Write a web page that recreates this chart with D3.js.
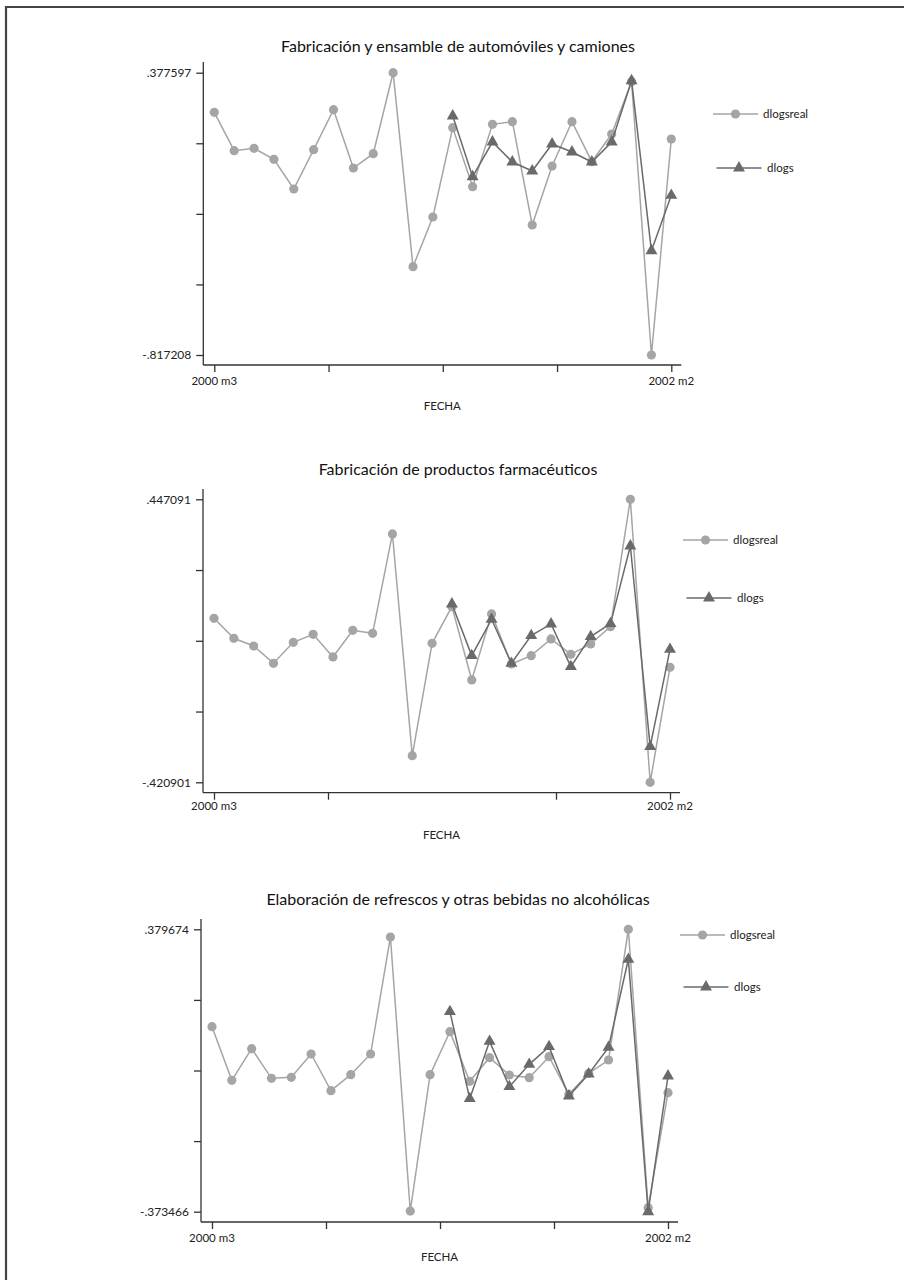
<!DOCTYPE html>
<html lang="es">
<head>
<meta charset="UTF-8">
<title>dlogsreal vs dlogs</title>
<script src="https://d3js.org/d3.v7.min.js"></script>
<style>
  body { margin: 0; background: #fff; }
  svg { display: block; font-family: Lato, "Open Sans", sans-serif; }
  .frame { stroke: #444; stroke-width: 2.2; }
  .axis path, .axis line { stroke: #333; stroke-width: 1.3; }
  .axis text { fill: #222; font-size: 12px; font-family: Lato, sans-serif; }
  .title { font-size: 16px; fill: #111; }
  .xlab { font-size: 11.5px; fill: #222; }
  .legend text { font-size: 11.5px; fill: #222; }
</style>
</head>
<body>
<svg id="chart" width="904" height="1280"></svg>
<script>
// monthly dates, 2000 m3 .. 2002 m2
const months = ["2000 m3","2000 m4","2000 m5","2000 m6","2000 m7","2000 m8","2000 m9","2000 m10",
  "2000 m11","2000 m12","2001 m1","2001 m2","2001 m3","2001 m4","2001 m5","2001 m6","2001 m7",
  "2001 m8","2001 m9","2001 m10","2001 m11","2001 m12","2002 m1","2002 m2"];
const seriesNames = ["dlogsreal", "dlogs"];

const titles = [
  "Fabricación y ensamble de automóviles y camiones",
  "Fabricación de productos farmacéuticos",
  "Elaboración de refrescos y otras bebidas no alcohólicas"
];
const yLimits = [[-.817208, .377597], [-.420901, .447091], [-.373466, .379674]];
const yTickLabels = [["-.817208", ".377597"], ["-.420901", ".447091"], ["-.373466", ".379674"]];

// panel 1
const autoReal = [.2097, .0475, .0574, .0108, -.1147, .0517, .2210, -.0258, .0348, .377597,
  -.4434, -.2332, .1448, -.1048, .1590, .1702, -.2670, -.0174, .1702, .0010, .1180, .3395, -.817208, .0969];
const autoFit = [null, null, null, null, null, null, null, null, null, null, null, null,
  .1942, -.0625, .0842, -.0004, -.0385, .0757, .0419, -.0004, .0842, .3437, -.3757, -.1415];
// panel 2
const farmaReal = [.0821, .0208, -.0028, -.0559, .0085, .0330, -.0365, .0453, .0361, .3408,
  -.3391, .0054, .1179, -.1070, .0954, -.0580, -.0324, .0187, -.0283, .0034, .0565, .447091, -.420901, -.0682];
const farmaFit = [null, null, null, null, null, null, null, null, null, null, null, null,
  .1261, -.0324, .0790, -.0559, .0289, .0647, -.0661, .0259, .0657, .3040, -.3115, -.0130];
// panel 3
const refReal = [.1200, -.0231, .0614, -.0178, -.0151, .0471, -.0507, -.0080, .0471, .3592,
  -.3717, -.0080, .1067, -.0258, .0373, -.0089, -.0160, .0400, -.0605, -.0044, .0311, .379674, -.3628, -.0560];
const refFit = [null, null, null, null, null, null, null, null, null, null, null, null,
  .1601, -.0720, .0809, -.0400, .0196, .0667, -.0649, -.0062, .0649, .2997, -.373466, -.0116];

const realSeries = [autoReal, farmaReal, refReal];
const fitSeries = [autoFit, farmaFit, refFit];

// layout of the three stacked graphs
const panels = [
  { top: 72.7, bottom: 355, axisY: 365, axisTop: 62, x0: 214.3, x1: 671.3, titleY: 52,
    labY: 385, fechaY: 410, legX: 713, legY: [114, 168], xTicks: [0, 5.75, 11.5, 17.25, 23] },
  { top: 499.3, bottom: 782.3, axisY: 792.7, axisTop: 489, x0: 214, x1: 670, titleY: 475,
    labY: 810, fechaY: 839, legX: 683, legY: [540, 598], xTicks: [0, 5.75, 17.25, 23] },
  { top: 929.3, bottom: 1211.7, axisY: 1222, axisTop: 919, x0: 212, x1: 668, titleY: 905,
    labY: 1242, fechaY: 1261, legX: 680, legY: [935, 987], xTicks: [0, 5.75, 11.5, 17.25, 23] }
];

const colReal = "#a5a5a5", colFit = "#6a6a6a";
const svg = d3.select("#chart");

// outer frame (top and left edges only)
svg.append("line").attr("class", "frame").attr("x1", 6).attr("y1", 7).attr("x2", 904).attr("y2", 7);
svg.append("line").attr("class", "frame").attr("x1", 6).attr("y1", 6).attr("x2", 6).attr("y2", 1280);

const tri = d3.symbol().type(d3.symbolTriangle).size(62);

panels.forEach((p, k) => {
  const g = svg.append("g");
  const x = d3.scaleLinear().domain([0, months.length - 1]).range([p.x0, p.x1]);
  const y = d3.scaleLinear().domain(yLimits[k]).range([p.bottom, p.top]);
  const yAxisX = p.x0 - 11;

  g.append("text").attr("class", "title").attr("x", 458).attr("y", p.titleY)
    .attr("text-anchor", "middle").text(titles[k]);

  // y axis: five ticks, only ends labelled
  const [lo, hi] = yLimits[k];
  const yTicks = d3.range(5).map(i => lo + (hi - lo) * i / 4);
  const ya = g.append("g").attr("class", "axis").attr("transform", `translate(${yAxisX},0)`)
    .call(d3.axisLeft(y).tickValues(yTicks).tickSize(7).tickPadding(5)
      .tickFormat((d, i) => i === 0 ? yTickLabels[k][0] : i === 4 ? yTickLabels[k][1] : ""));
  ya.select(".domain").attr("d", `M0,${p.axisTop}V${p.axisY}`);

  // x axis
  const xa = g.append("g").attr("class", "axis").attr("transform", `translate(0,${p.axisY})`)
    .call(d3.axisBottom(x).tickValues(p.xTicks).tickSize(7).tickFormat(""));
  xa.select(".domain").attr("d", `M${yAxisX},0H${p.x1 + 10}`);
  g.append("text").attr("class", "xlab").attr("x", x(0)).attr("y", p.labY)
    .attr("text-anchor", "middle").text(months[0]);
  g.append("text").attr("class", "xlab").attr("x", x(months.length - 1)).attr("y", p.labY)
    .attr("text-anchor", "middle").text(months[months.length - 1]);
  g.append("text").attr("class", "xlab").attr("x", (yAxisX + p.x1 + 10) / 2).attr("y", p.fechaY)
    .attr("text-anchor", "middle").text("FECHA");

  const line = d3.line().defined(d => d != null).x((d, i) => x(i)).y(d => y(d));

  // dlogsreal
  g.append("path").datum(realSeries[k]).attr("d", line)
    .attr("fill", "none").attr("stroke", colReal).attr("stroke-width", 1.5);
  g.selectAll(null).data(realSeries[k]).join("circle")
    .attr("cx", (d, i) => x(i)).attr("cy", d => y(d)).attr("r", 4.6).attr("fill", colReal);

  // dlogs
  const fit = fitSeries[k];
  g.append("path").datum(fit).attr("d", line)
    .attr("fill", "none").attr("stroke", colFit).attr("stroke-width", 1.5);
  g.selectAll(null).data(fit.map((d, i) => [i, d]).filter(e => e[1] != null)).join("path")
    .attr("d", tri).attr("fill", colFit)
    .attr("transform", e => `translate(${x(e[0])},${y(e[1])})`);

  // legend
  const lg = g.append("g").attr("class", "legend");
  lg.append("line").attr("x1", p.legX).attr("x2", p.legX + 45).attr("y1", p.legY[0]).attr("y2", p.legY[0])
    .attr("stroke", colReal).attr("stroke-width", 1.5);
  lg.append("circle").attr("cx", p.legX + 22.5).attr("cy", p.legY[0]).attr("r", 4.6).attr("fill", colReal);
  lg.append("text").attr("x", p.legX + 50).attr("y", p.legY[0] + 4).text(seriesNames[0]);
  lg.append("line").attr("x1", p.legX + 3.5).attr("x2", p.legX + 48.5).attr("y1", p.legY[1]).attr("y2", p.legY[1])
    .attr("stroke", colFit).attr("stroke-width", 1.5);
  lg.append("path").attr("d", tri).attr("fill", colFit)
    .attr("transform", `translate(${p.legX + 26},${p.legY[1]})`);
  lg.append("text").attr("x", p.legX + 54).attr("y", p.legY[1] + 4).text(seriesNames[1]);
});
</script>
</body>
</html>
